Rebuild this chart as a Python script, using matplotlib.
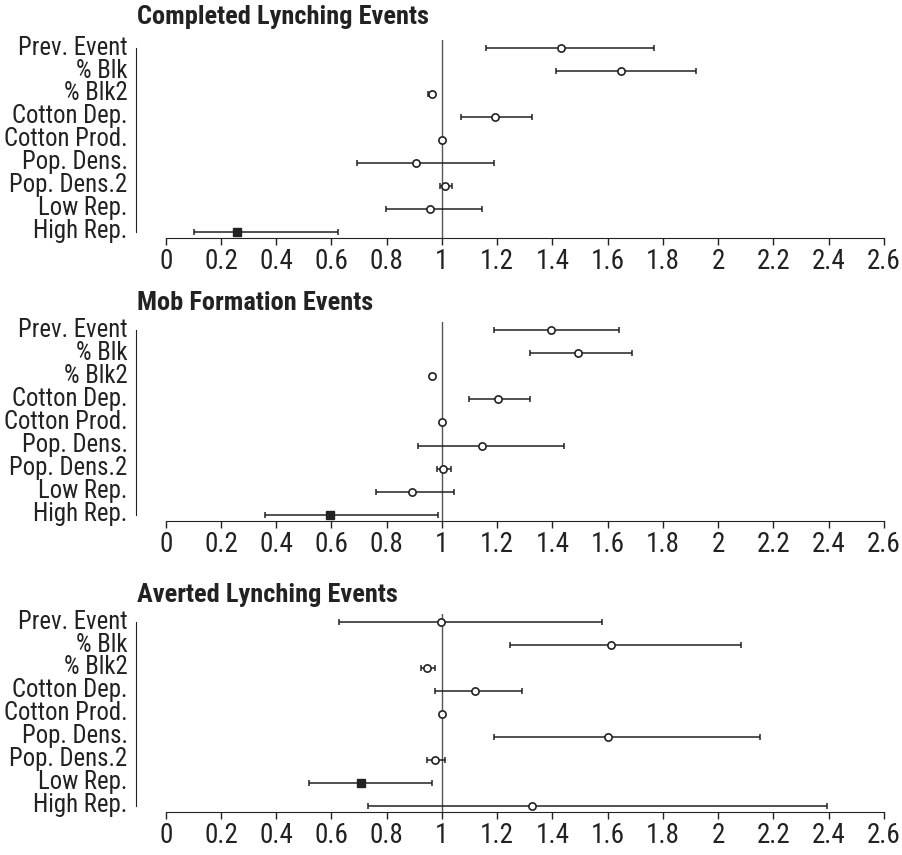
import numpy as np
import matplotlib
matplotlib.use("Agg")
import matplotlib.pyplot as plt
import matplotlib.transforms as mtransforms

plt.rcParams['font.family'] = ['Roboto Condensed', 'Liberation Sans', 'DejaVu Sans']

variables = ["Prev. Event", "% Blk", "% Blk2", "Cotton Dep.", "Cotton Prod.",
             "Pop. Dens.", "Pop. Dens.2", "Low Rep.", "High Rep."]
titles = ["Completed Lynching Events", "Mob Formation Events", "Averted Lynching Events"]
x_ticks = [0, 0.2, 0.4, 0.6, 0.8, 1, 1.2, 1.4, 1.6, 1.8, 2, 2.2, 2.4, 2.6]
x_ticklabels = ["0", "0.2", "0.4", "0.6", "0.8", "1", "1.2", "1.4", "1.6", "1.8", "2", "2.2", "2.4", "2.6"]

# odds ratios and 95% intervals
completed_est = [1.431, 1.648, 0.963, 1.192, 1.000, 0.906, 1.012, 0.957, 0.259]
completed_lo = [1.158, 1.414, 0.950, 1.070, 0.998, 0.694, 0.993, 0.797, 0.104]
completed_hi = [1.769, 1.921, 0.975, 1.326, 1.002, 1.187, 1.037, 1.146, 0.625]

mob_est = [1.395, 1.491, 0.965, 1.202, 1.000, 1.146, 1.005, 0.893, 0.595]
mob_lo = [1.187, 1.320, 0.957, 1.098, 0.998, 0.912, 0.981, 0.761, 0.360]
mob_hi = [1.639, 1.687, 0.973, 1.319, 1.002, 1.443, 1.033, 1.045, 0.985]

averted_est = [0.997, 1.612, 0.947, 1.120, 1.000, 1.600, 0.976, 0.708, 1.326]
averted_lo = [0.629, 1.248, 0.924, 0.975, 0.998, 1.190, 0.946, 0.520, 0.734]
averted_hi = [1.579, 2.084, 0.975, 1.289, 1.002, 2.151, 1.012, 0.964, 2.394]

# which row is significant (filled square)
completed_sig = [False] * 8 + [True]
mob_sig = [False] * 8 + [True]
averted_sig = [False] * 7 + [True, False]

panels = [
    (completed_est, completed_lo, completed_hi, completed_sig),
    (mob_est, mob_lo, mob_hi, mob_sig),
    (averted_est, averted_lo, averted_hi, averted_sig),
]

W, H = 902, 855
fig = plt.figure(figsize=(W / 100, H / 100), dpi=100)

ink = '#222222'
tops = [40, 322, 614]
bottoms = [238, 521, 812]
title_y = [17, 303, 595]
left_px, right_px = 165.7, 884

for i, (est, lo, hi, sig) in enumerate(panels):
    ax = fig.add_axes([left_px / W, 1 - bottoms[i] / H,
                       (right_px - left_px) / W, (bottoms[i] - tops[i]) / H])
    y = np.arange(len(variables))
    est = np.array(est)
    lo = np.array(lo)
    hi = np.array(hi)
    sig = np.array(sig)

    # spines first: set_position resets the tick properties
    for s in ['top', 'right']:
        ax.spines[s].set_visible(False)
    ax.spines['left'].set_position(('outward', 21.4))
    ax.spines['left'].set_color(ink)
    ax.spines['bottom'].set_color(ink)

    ax.axvline(1, color='#555555', lw=1.0, zorder=1)
    ax.errorbar(est, y, xerr=[est - lo, hi - est], fmt='none', ecolor=ink,
                elinewidth=1.1, capsize=2.3, capthick=1.1, zorder=2)
    ax.plot(est[~sig], y[~sig], 'o', ms=5.2, mfc='white', mec=ink, mew=1.2, zorder=3)
    ax.plot(est[sig], y[sig], 's', ms=5.5, mfc=ink, mec=ink, zorder=3)

    ax.set_xlim(0, 2.6)
    ax.set_ylim(8.27, -0.35)
    ax.spines['left'].set_bounds(0, 8)
    ax.spines['bottom'].set_bounds(0, 2.6)
    ax.set_xticks(x_ticks)
    ax.set_xticklabels(x_ticklabels, fontsize=19.5, color=ink)
    ax.set_yticks(y)
    ax.set_yticklabels(variables, fontsize=17.8, color=ink)
    ax.tick_params(axis='y', length=0, pad=6)
    ax.tick_params(axis='x', length=5, width=1.0, color=ink, pad=2)

    # labels sit a little above their rows in the original
    shift = mtransforms.ScaledTranslation(0, 3 / 100, fig.dpi_scale_trans)
    for lab in ax.get_yticklabels():
        lab.set_transform(lab.get_transform() + shift)

    fig.text(137 / W, 1 - title_y[i] / H, titles[i], fontsize=19, fontweight='bold',
             color=ink, ha='left', va='center')

fig.savefig("out.png", dpi=100)
